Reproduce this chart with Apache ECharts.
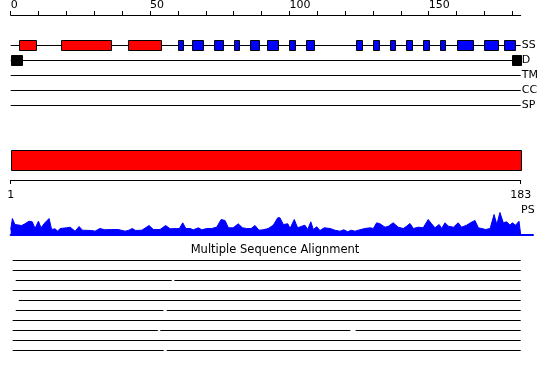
<!DOCTYPE html>
<html><head><meta charset="utf-8">
<script src="https://cdn.jsdelivr.net/npm/echarts@6/dist/echarts.min.js"></script>
<style>html,body{margin:0;padding:0;background:#fff}#c{width:550px;height:380px}</style>
</head><body><div id="c"></div>
<script>
const seqLength = 183;
const topTicks = [0,10,20,30,40,50,60,70,80,90,100,110,120,130,140,150,160,170,180];
const topTickLabels = [0,50,100,150];
const trackNames = ['SS','D','TM','CC','SP'];
const helices = [[3,9],[18,36],[42,54]];
const strands = [[60,62],[65,69],[73,76],[80,82],[86,89],[92,96],[100,102],[106,109],[124,126],[130,132],[136,138],[142,144],[148,150],[154,156],[160,166],[170,175],[177,181]];
const disorder = [[0,4],[180,183]];
const psRange = [1,183];
const rangeTickLabels = [1,183];
const psProfile = [[1,5],[1.6,16],[2.5,10],[4.9,9],[6.1,10.7],[7.5,13.3],[8.7,12.7],[9.7,6],[10.9,13.3],[11.8,6.7],[13.2,11.7],[14.7,16],[15.6,5],[16.8,5.7],[17.8,3.3],[18.6,6],[21,6.7],[22.2,7.3],[24,3.3],[25.4,8],[26.6,4.3],[29.9,4],[31.1,3.3],[32.8,6],[34.6,4.7],[37,5],[39.4,5],[41.8,3.3],[43.2,4.3],[44.4,6],[45.6,4],
[47.8,4.3],[50.4,9],[51.9,5],[54.3,5],[56.3,9],[57.9,5.7],[60.2,6],[61.2,6],[62.4,11.7],[63.5,6],[65,6],[66.2,4.7],[68,6.7],[69.2,4.7],[70.9,6],[72.7,6],[74.5,7.3],[76.1,15],[77.5,14],[78.7,6.7],[80.4,6.7],[82.2,10.7],[83.7,6.7],[85.2,6],[86.8,6],[88.2,9],[89.6,4.3],[91.1,4.7],
[92.9,6],[94.7,9.3],[96.3,16.7],[97.1,16.7],[98.3,10],[99.9,10.7],[100.7,6],[102.2,15],[103.4,6.7],[104.9,8.3],[106,9.3],[107,5],[108.1,12.7],[109,5],[110.2,7.7],[111.4,4],[112.9,6.7],[115,6],[116.7,4.3],[118.5,3.3],[119.9,4.7],[121.3,2.7],[122.4,4.3],[123.9,3.3],[125.6,4.7],[127.4,6],[129.2,6.7],[130.4,6],[131.6,11.7],[132.8,10.7],[134.6,7.3],[135.8,8.3],[137.5,11.7],[138.2,10.7],[139.3,7.3],
[141.1,6],[142.3,8.3],[143.5,11],[144.7,6],[146.5,7.3],[148.2,6.7],[150,15],[151.2,10.7],[152.4,6.7],[153.9,10],[154.8,6],[156,11.7],[157.2,8.3],[159,7.3],[160.7,11.7],[161.9,7.3],[163.7,9.3],[165.7,12.7],[166.7,14],[167.9,6.7],[169.1,6],[170.5,5],[172.1,6],[173.5,20],[174.5,10],[175.6,22],[176.8,11.7],[178,12.7],[179.2,9.3],[180,11.7],[181.2,9.3],[182.4,13.3],[183,0]];
// [row, start, end]
const msaSegments = [[1,1.7,183],[2,1.7,183],[3,2.8,58.5],[3,59.4,183],[4,1.7,183],[5,3.9,183],[6,2.8,55.5],[6,56.7,183],[7,1.7,183],[8,1.7,53.5],[8,54.4,122.2],[8,124.1,183],[9,1.7,183],[10,1.7,55.6],[10,56.7,183]];

const FONT = 'DejaVu Sans';
function rectItem(h){
  return function(params, api){
    const a = api.coord([api.value(0), api.value(2)]);
    const b = api.coord([api.value(1), api.value(2)]);
    const x = Math.round(a[0]) + 0.5, x2 = Math.round(b[0]) + 0.5;
    const y = Math.round(a[1] - h/2) + 0.5;
    return {type:'rect', shape:{x:x, y:y, width:x2-x, height:h},
      style:{fill:api.visual('color'), stroke:'#000', lineWidth:1}};
  };
}
function bandItem(params, api){
  const a = api.coord([api.value(0), api.value(2)]);
  const b = api.coord([api.value(1), api.value(3)]);
  const x = Math.round(a[0]) + 0.5, x2 = Math.round(b[0]) + 0.5;
  const y1 = Math.round(b[1]) + 0.5, y2 = Math.round(a[1]) + 0.5;
  return {type:'rect', shape:{x:x, y:y1, width:x2-x, height:y2-y1},
    style:{fill:api.visual('color'), stroke:'#000', lineWidth:1}};
}
function hLine(params, api){
  const a = api.coord([api.value(0), api.value(2)]);
  const b = api.coord([api.value(1), api.value(2)]);
  const y = Math.round(a[1]) + 0.5;
  return {type:'line', shape:{x1:a[0], y1:y, x2:b[0], y2:y}, style:{stroke:'#000', lineWidth:1}};
}

const chart = echarts.init(document.getElementById('c'), null, {renderer:'canvas'});
chart.setOption({
  animation:false,
  backgroundColor:'#fff',
  textStyle:{fontFamily:FONT},
  title:[
    {text:'Multiple Sequence Alignment', left:'center', top:244, padding:0,
     textStyle:{fontSize:11.5, fontWeight:'normal', color:'#000', fontFamily:FONT}},
    {text:'PS', left:521, top:205, padding:0,
     textStyle:{fontSize:11, fontWeight:'normal', color:'#000', fontFamily:FONT}}
  ],
  grid:[
    {left:10.7, width:510, top:15, height:90},
    {left:10.7, width:510, top:140, height:40},
    {left:10.7, width:522.3, top:209.5, height:25},
    {left:10.7, width:510, top:250, height:110}
  ],
  xAxis:[
    {gridIndex:0, type:'value', min:0, max:seqLength, position:'top',
     axisLine:{lineStyle:{color:'#000', width:1}},
     axisTick:{customValues:topTicks, length:4, lineStyle:{color:'#000'}},
     axisLabel:{customValues:topTickLabels, align:'left', margin:4, fontSize:11, color:'#000', fontFamily:FONT},
     splitLine:{show:false}},
    {gridIndex:1, type:'value', min:psRange[0], max:psRange[1], position:'bottom',
     axisLine:{lineStyle:{color:'#000', width:1}},
     axisTick:{customValues:rangeTickLabels, length:4, lineStyle:{color:'#000'}},
     axisLabel:{customValues:rangeTickLabels, margin:10, fontSize:11, color:'#000', fontFamily:FONT},
     splitLine:{show:false}},
    {gridIndex:2, type:'value', min:1, max:187.4,
     axisLine:{lineStyle:{color:'#0000ff', width:2}},
     axisTick:{show:false}, axisLabel:{show:false}, splitLine:{show:false}},
    {gridIndex:3, type:'value', min:1, max:seqLength, show:false}
  ],
  yAxis:[
    {gridIndex:0, type:'value', min:0, max:6, interval:1, inverse:true, position:'right',
     axisLine:{show:false}, axisTick:{show:false}, splitLine:{show:false},
     axisLabel:{margin:1, fontSize:11, color:'#000', fontFamily:FONT,
       formatter:function(v){ return trackNames[v-2] || ''; }}},
    {gridIndex:1, type:'value', min:0, max:4, show:false},
    {gridIndex:2, type:'value', min:0, max:25, show:false},
    {gridIndex:3, type:'value', min:0, max:11, inverse:true, show:false}
  ],
  series:[
    {type:'custom', xAxisIndex:0, yAxisIndex:0, renderItem:hLine, encode:{x:[0,1], y:2},
     data:trackNames.map(function(n,i){ return [0, seqLength, i+2]; })},
    {type:'custom', xAxisIndex:0, yAxisIndex:0, renderItem:rectItem(10), encode:{x:[0,1], y:2},
     itemStyle:{color:'#ff0000'}, data:helices.map(function(h){ return [h[0], h[1], 2]; })},
    {type:'custom', xAxisIndex:0, yAxisIndex:0, renderItem:rectItem(10), encode:{x:[0,1], y:2},
     itemStyle:{color:'#0000ff'}, data:strands.map(function(h){ return [h[0], h[1], 2]; })},
    {type:'custom', xAxisIndex:0, yAxisIndex:0, renderItem:rectItem(10), encode:{x:[0,1], y:2},
     itemStyle:{color:'#000000'}, data:disorder.map(function(h){ return [h[0], h[1], 3]; })},
    {type:'custom', xAxisIndex:1, yAxisIndex:1, renderItem:bandItem, encode:{x:[0,1], y:[2,3]},
     itemStyle:{color:'#ff0000'}, data:[[psRange[0], psRange[1], 1, 3]]},
    {type:'line', xAxisIndex:2, yAxisIndex:2, data:psProfile, symbol:'none', smooth:false,
     lineStyle:{color:'#0000ff', width:1}, areaStyle:{color:'#0000ff', opacity:1}, z:1},
    {type:'custom', xAxisIndex:3, yAxisIndex:3, renderItem:hLine, encode:{x:[0,1], y:2},
     data:msaSegments.map(function(s){ return [s[1], s[2], s[0]]; })}
  ]
});
</script></body></html>
